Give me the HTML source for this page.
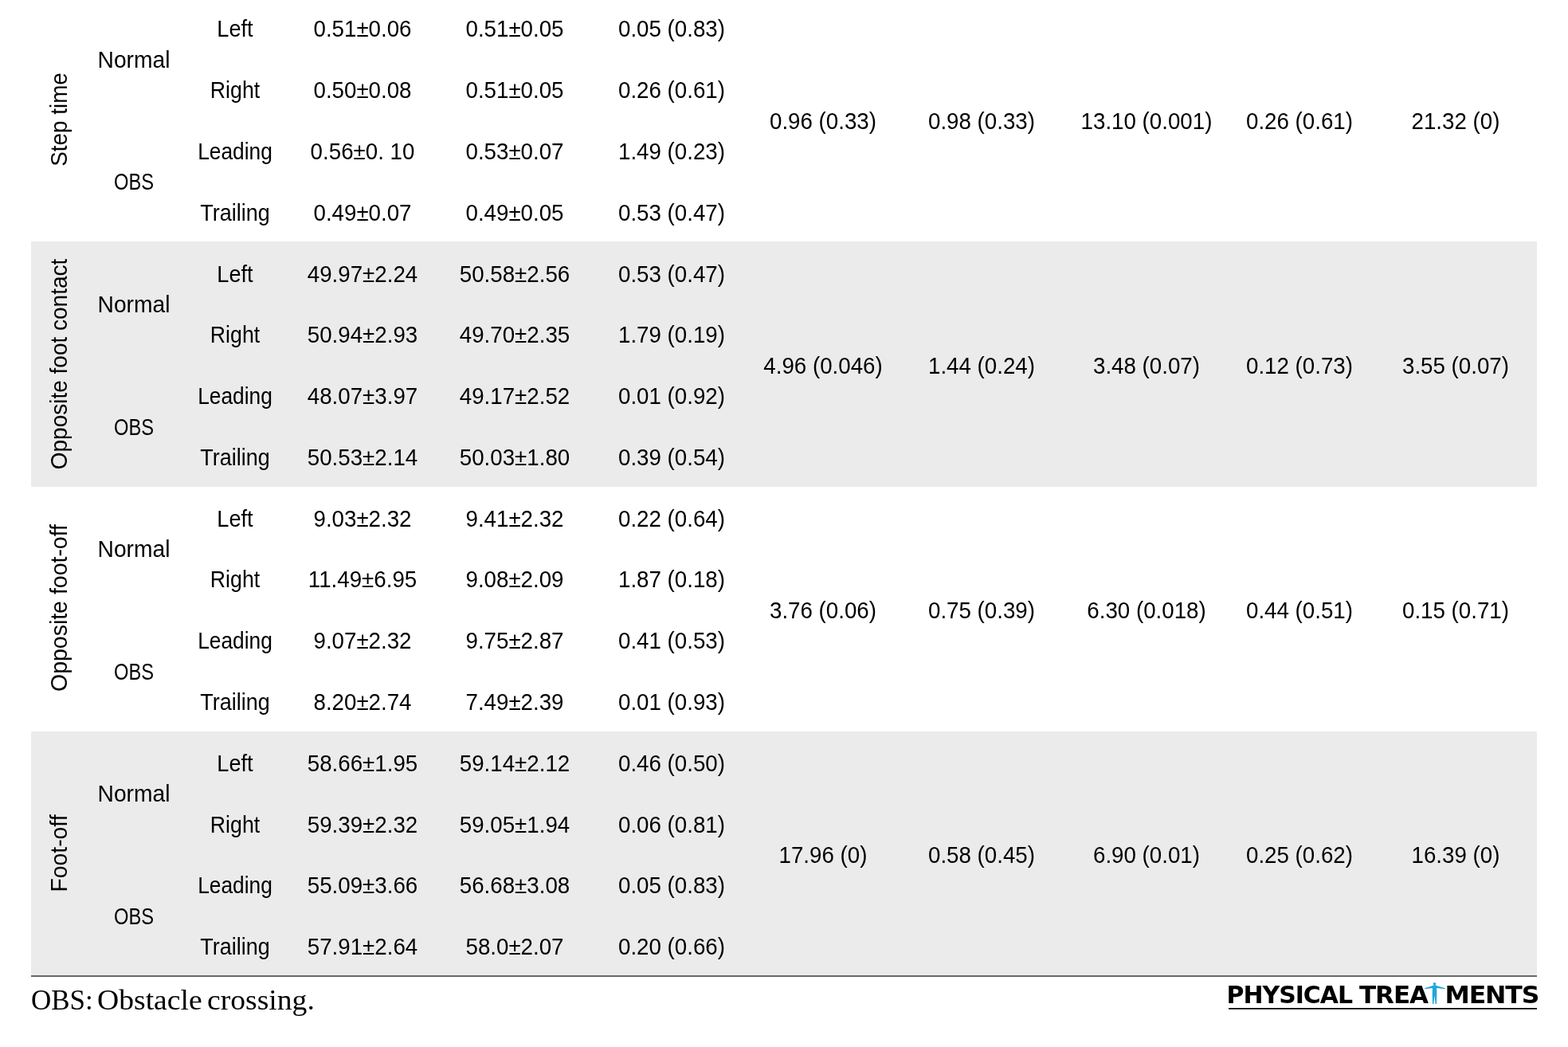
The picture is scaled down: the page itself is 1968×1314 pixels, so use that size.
<!DOCTYPE html>
<html lang="en"><head><meta charset="utf-8"><title>Table</title>
<style>
html,body{margin:0;padding:0;background:#fff;}
body{width:1968px;height:1314px;position:relative;overflow:hidden;font-family:"Liberation Sans",sans-serif;color:#000;}
.band{position:absolute;left:39px;width:1890px;height:307px;background:#ebebeb;}
.t,.rot{position:absolute;width:0;height:0;font-size:28.6px;line-height:1;white-space:nowrap;}
.t span{position:absolute;left:0;top:0;display:block;transform:translate(-50%,-50%) scaleX(0.969);}
.rot span{position:absolute;left:0;top:0;display:block;transform:translate(-50%,-50%) rotate(-90deg) scaleX(0.969);}
.rule{position:absolute;left:39px;width:1890px;top:1223.5px;height:2.5px;background:#686868;}
.note{position:absolute;left:38.7px;top:1237.9px;font-family:"Liberation Serif",serif;font-size:35.3px;line-height:1;white-space:nowrap;}
.note span{position:absolute;top:0;display:block;white-space:pre;transform-origin:0 0;}
.logo{position:absolute;left:1530px;top:1230px;width:400px;height:40px;}
</style></head><body>
<div class="rot" style="left:74.2px;top:150.2px"><span style="transform:translate(-50%,-50%) rotate(-90deg) scaleX(0.974)">Step time</span></div>
<div class="t" style="left:168px;top:74.7px"><span style="transform:translate(-50%,-50%) scaleX(0.986)">Normal</span></div>
<div class="t" style="left:168px;top:228.3px"><span style="transform:translate(-50%,-50%) scaleX(0.829)">OBS</span></div>
<div class="t" style="left:295px;top:36.3px"><span style="transform:translate(-50%,-50%) scaleX(0.949)">Left</span></div>
<div class="t" style="left:455px;top:36.3px"><span>0.51±0.06</span></div>
<div class="t" style="left:646px;top:36.3px"><span>0.51±0.05</span></div>
<div class="t" style="left:843px;top:36.3px"><span>0.05 (0.83)</span></div>
<div class="t" style="left:295px;top:113.1px"><span style="transform:translate(-50%,-50%) scaleX(0.934)">Right</span></div>
<div class="t" style="left:455px;top:113.1px"><span>0.50±0.08</span></div>
<div class="t" style="left:646px;top:113.1px"><span>0.51±0.05</span></div>
<div class="t" style="left:843px;top:113.1px"><span>0.26 (0.61)</span></div>
<div class="t" style="left:295px;top:189.9px"><span style="transform:translate(-50%,-50%) scaleX(0.921)">Leading</span></div>
<div class="t" style="left:455px;top:189.9px"><span>0.56±0. 10</span></div>
<div class="t" style="left:646px;top:189.9px"><span>0.53±0.07</span></div>
<div class="t" style="left:843px;top:189.9px"><span>1.49 (0.23)</span></div>
<div class="t" style="left:295px;top:266.7px"><span style="transform:translate(-50%,-50%) scaleX(0.943)">Trailing</span></div>
<div class="t" style="left:455px;top:266.7px"><span>0.49±0.07</span></div>
<div class="t" style="left:646px;top:266.7px"><span>0.49±0.05</span></div>
<div class="t" style="left:843px;top:266.7px"><span>0.53 (0.47)</span></div>
<div class="t" style="left:1033px;top:151.5px"><span>0.96 (0.33)</span></div>
<div class="t" style="left:1232px;top:151.5px"><span>0.98 (0.33)</span></div>
<div class="t" style="left:1439px;top:151.5px"><span>13.10 (0.001)</span></div>
<div class="t" style="left:1631px;top:151.5px"><span>0.26 (0.61)</span></div>
<div class="t" style="left:1827px;top:151.5px"><span>21.32 (0)</span></div>
<div class="band" style="top:303.3px;height:307.6px"></div>
<div class="rot" style="left:73.9px;top:457.3px"><span style="transform:translate(-50%,-50%) rotate(-90deg) scaleX(0.979)">Opposite foot contact</span></div>
<div class="t" style="left:168px;top:381.9px"><span style="transform:translate(-50%,-50%) scaleX(0.986)">Normal</span></div>
<div class="t" style="left:168px;top:535.5px"><span style="transform:translate(-50%,-50%) scaleX(0.829)">OBS</span></div>
<div class="t" style="left:295px;top:343.5px"><span style="transform:translate(-50%,-50%) scaleX(0.949)">Left</span></div>
<div class="t" style="left:455px;top:343.5px"><span>49.97±2.24</span></div>
<div class="t" style="left:646px;top:343.5px"><span>50.58±2.56</span></div>
<div class="t" style="left:843px;top:343.5px"><span>0.53 (0.47)</span></div>
<div class="t" style="left:295px;top:420.3px"><span style="transform:translate(-50%,-50%) scaleX(0.934)">Right</span></div>
<div class="t" style="left:455px;top:420.3px"><span>50.94±2.93</span></div>
<div class="t" style="left:646px;top:420.3px"><span>49.70±2.35</span></div>
<div class="t" style="left:843px;top:420.3px"><span>1.79 (0.19)</span></div>
<div class="t" style="left:295px;top:497.1px"><span style="transform:translate(-50%,-50%) scaleX(0.921)">Leading</span></div>
<div class="t" style="left:455px;top:497.1px"><span>48.07±3.97</span></div>
<div class="t" style="left:646px;top:497.1px"><span>49.17±2.52</span></div>
<div class="t" style="left:843px;top:497.1px"><span>0.01 (0.92)</span></div>
<div class="t" style="left:295px;top:573.9px"><span style="transform:translate(-50%,-50%) scaleX(0.943)">Trailing</span></div>
<div class="t" style="left:455px;top:573.9px"><span>50.53±2.14</span></div>
<div class="t" style="left:646px;top:573.9px"><span>50.03±1.80</span></div>
<div class="t" style="left:843px;top:573.9px"><span>0.39 (0.54)</span></div>
<div class="t" style="left:1033px;top:458.7px"><span>4.96 (0.046)</span></div>
<div class="t" style="left:1232px;top:458.7px"><span>1.44 (0.24)</span></div>
<div class="t" style="left:1439px;top:458.7px"><span>3.48 (0.07)</span></div>
<div class="t" style="left:1631px;top:458.7px"><span>0.12 (0.73)</span></div>
<div class="t" style="left:1827px;top:458.7px"><span>3.55 (0.07)</span></div>
<div class="rot" style="left:73.9px;top:763.0px"><span style="transform:translate(-50%,-50%) rotate(-90deg) scaleX(0.996)">Opposite foot-off</span></div>
<div class="t" style="left:168px;top:689.1px"><span style="transform:translate(-50%,-50%) scaleX(0.986)">Normal</span></div>
<div class="t" style="left:168px;top:842.7px"><span style="transform:translate(-50%,-50%) scaleX(0.829)">OBS</span></div>
<div class="t" style="left:295px;top:650.7px"><span style="transform:translate(-50%,-50%) scaleX(0.949)">Left</span></div>
<div class="t" style="left:455px;top:650.7px"><span>9.03±2.32</span></div>
<div class="t" style="left:646px;top:650.7px"><span>9.41±2.32</span></div>
<div class="t" style="left:843px;top:650.7px"><span>0.22 (0.64)</span></div>
<div class="t" style="left:295px;top:726.6px"><span style="transform:translate(-50%,-50%) scaleX(0.934)">Right</span></div>
<div class="t" style="left:455px;top:726.6px"><span>11.49±6.95</span></div>
<div class="t" style="left:646px;top:726.6px"><span>9.08±2.09</span></div>
<div class="t" style="left:843px;top:726.6px"><span>1.87 (0.18)</span></div>
<div class="t" style="left:295px;top:804.3px"><span style="transform:translate(-50%,-50%) scaleX(0.921)">Leading</span></div>
<div class="t" style="left:455px;top:804.3px"><span>9.07±2.32</span></div>
<div class="t" style="left:646px;top:804.3px"><span>9.75±2.87</span></div>
<div class="t" style="left:843px;top:804.3px"><span>0.41 (0.53)</span></div>
<div class="t" style="left:295px;top:881.1px"><span style="transform:translate(-50%,-50%) scaleX(0.943)">Trailing</span></div>
<div class="t" style="left:455px;top:881.1px"><span>8.20±2.74</span></div>
<div class="t" style="left:646px;top:881.1px"><span>7.49±2.39</span></div>
<div class="t" style="left:843px;top:881.1px"><span>0.01 (0.93)</span></div>
<div class="t" style="left:1033px;top:765.9px"><span>3.76 (0.06)</span></div>
<div class="t" style="left:1232px;top:765.9px"><span>0.75 (0.39)</span></div>
<div class="t" style="left:1439px;top:765.9px"><span>6.30 (0.018)</span></div>
<div class="t" style="left:1631px;top:765.9px"><span>0.44 (0.51)</span></div>
<div class="t" style="left:1827px;top:765.9px"><span>0.15 (0.71)</span></div>
<div class="band" style="top:917.8px;height:306.5px"></div>
<div class="rot" style="left:74.0px;top:1071.0px"><span style="transform:translate(-50%,-50%) rotate(-90deg) scaleX(0.992)">Foot-off</span></div>
<div class="t" style="left:168px;top:996.3px"><span style="transform:translate(-50%,-50%) scaleX(0.986)">Normal</span></div>
<div class="t" style="left:168px;top:1149.9px"><span style="transform:translate(-50%,-50%) scaleX(0.829)">OBS</span></div>
<div class="t" style="left:295px;top:957.9px"><span style="transform:translate(-50%,-50%) scaleX(0.949)">Left</span></div>
<div class="t" style="left:455px;top:957.9px"><span>58.66±1.95</span></div>
<div class="t" style="left:646px;top:957.9px"><span>59.14±2.12</span></div>
<div class="t" style="left:843px;top:957.9px"><span>0.46 (0.50)</span></div>
<div class="t" style="left:295px;top:1034.7px"><span style="transform:translate(-50%,-50%) scaleX(0.934)">Right</span></div>
<div class="t" style="left:455px;top:1034.7px"><span>59.39±2.32</span></div>
<div class="t" style="left:646px;top:1034.7px"><span>59.05±1.94</span></div>
<div class="t" style="left:843px;top:1034.7px"><span>0.06 (0.81)</span></div>
<div class="t" style="left:295px;top:1110.6px"><span style="transform:translate(-50%,-50%) scaleX(0.921)">Leading</span></div>
<div class="t" style="left:455px;top:1110.6px"><span>55.09±3.66</span></div>
<div class="t" style="left:646px;top:1110.6px"><span>56.68±3.08</span></div>
<div class="t" style="left:843px;top:1110.6px"><span>0.05 (0.83)</span></div>
<div class="t" style="left:295px;top:1188.3px"><span style="transform:translate(-50%,-50%) scaleX(0.943)">Trailing</span></div>
<div class="t" style="left:455px;top:1188.3px"><span>57.91±2.64</span></div>
<div class="t" style="left:646px;top:1188.3px"><span>58.0±2.07</span></div>
<div class="t" style="left:843px;top:1188.3px"><span>0.20 (0.66)</span></div>
<div class="t" style="left:1033px;top:1073.1px"><span>17.96 (0)</span></div>
<div class="t" style="left:1232px;top:1073.1px"><span>0.58 (0.45)</span></div>
<div class="t" style="left:1439px;top:1073.1px"><span>6.90 (0.01)</span></div>
<div class="t" style="left:1631px;top:1073.1px"><span>0.25 (0.62)</span></div>
<div class="t" style="left:1827px;top:1073.1px"><span>16.39 (0)</span></div>
<div class="rule"></div>
<div class="note"><span style="left:0;transform:scaleX(0.99)">OBS: </span><span style="left:83.1px;transform:scaleX(1.066)">Obstacle </span><span style="left:221.4px;transform:scaleX(1.066)">crossing.</span></div>
<svg class="logo" viewBox="0 0 400 40">
<g font-family="DejaVu Sans, Liberation Sans, sans-serif" font-weight="bold" font-size="29.6" fill="#000">
<text x="9.5" y="28.9" letter-spacing="-1" textLength="157.6" lengthAdjust="spacingAndGlyphs">PHYSICAL</text>
<text x="176" y="28.9" letter-spacing="-1" textLength="86" lengthAdjust="spacingAndGlyphs">TREA</text>
<text x="283.4" y="28.9" letter-spacing="-1" textLength="118" lengthAdjust="spacingAndGlyphs">MENTS</text>
</g>
<rect x="12" y="35" width="387" height="1.7" fill="#000"/>
<g fill="#1fa6dc">
<circle cx="270.55" cy="4.8" r="1.7"/>
<path d="M269.6 6.3 L267.5 7.3 L258.2 10.3 L258.3 11.2 L267.9 10.0 L267.7 19.0 L268.0 29.9 L269.3 29.9 L270.5 19.8 L271.7 29.9 L273.0 29.9 L273.3 19.0 L273.2 10.0 L283.7 11.2 L283.8 10.3 L273.5 7.3 L271.5 6.3 Z"/>
</g>
</svg>
</body></html>
